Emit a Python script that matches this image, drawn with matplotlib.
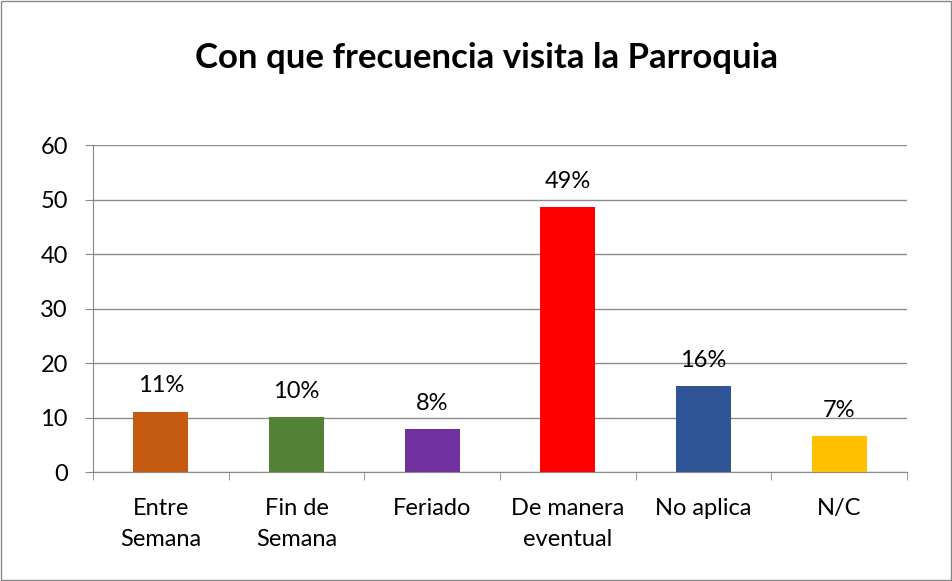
import matplotlib.pyplot as plt
import numpy as np

# data
categories = ['Entre\nSemana', 'Fin de\nSemana', 'Feriado', 'De manera\neventual', 'No aplica', 'N/C']
values = [11.1, 10.05, 7.85, 48.6, 15.75, 6.55]
labels = ['11%', '10%', '8%', '49%', '16%', '7%']
colors = ['#C55A11', '#538135', '#7030A0', '#FF0000', '#2F5597', '#FFC000']

plt.rcParams['font.family'] = ['Lato', 'DejaVu Sans']

fig = plt.figure(figsize=(9.52, 5.81), dpi=100)
ax = fig.add_axes([0.0977, 0.1876, 0.855, 0.5628])

x = np.arange(len(categories))
ax.bar(x, values, width=0.405, color=colors, zorder=3)

for xi, v, lab in zip(x, values, labels):
    ax.annotate(lab, (xi, v), xytext=(0, 11), textcoords='offset points',
                ha='center', va='bottom', fontsize=17, color='#000000')

ax.set_xlim(-0.5, len(categories) - 0.5)
ax.set_ylim(0, 60)
ax.set_yticks(range(0, 61, 10))
ax.tick_params(axis='y', labelsize=17, length=6, color='#888888', pad=12)
ax.set_xticks(x)
ax.set_xticklabels(categories, fontsize=17, linespacing=1.55)
ax.tick_params(axis='x', length=0, pad=19)
# category boundary ticks
ax.set_xticks(np.arange(-0.5, len(categories)), minor=True)
ax.tick_params(axis='x', which='minor', length=6, color='#888888')

ax.grid(axis='y', color='#8c8c8c', linewidth=1, zorder=0)
for s in ['top', 'right']:
    ax.spines[s].set_visible(False)
for s in ['left', 'bottom']:
    ax.spines[s].set_color('#888888')

fig.text(0.511, 0.9, 'Con que frecuencia visita la Parroquia', ha='center', va='center',
         fontsize=25, fontweight='bold')

# outer frame
fig.patches.append(plt.Rectangle((0.001, 0.001), 0.998, 0.998, transform=fig.transFigure,
                                 fill=False, edgecolor='#888888', linewidth=1))

fig.savefig('out.png', dpi=100)
